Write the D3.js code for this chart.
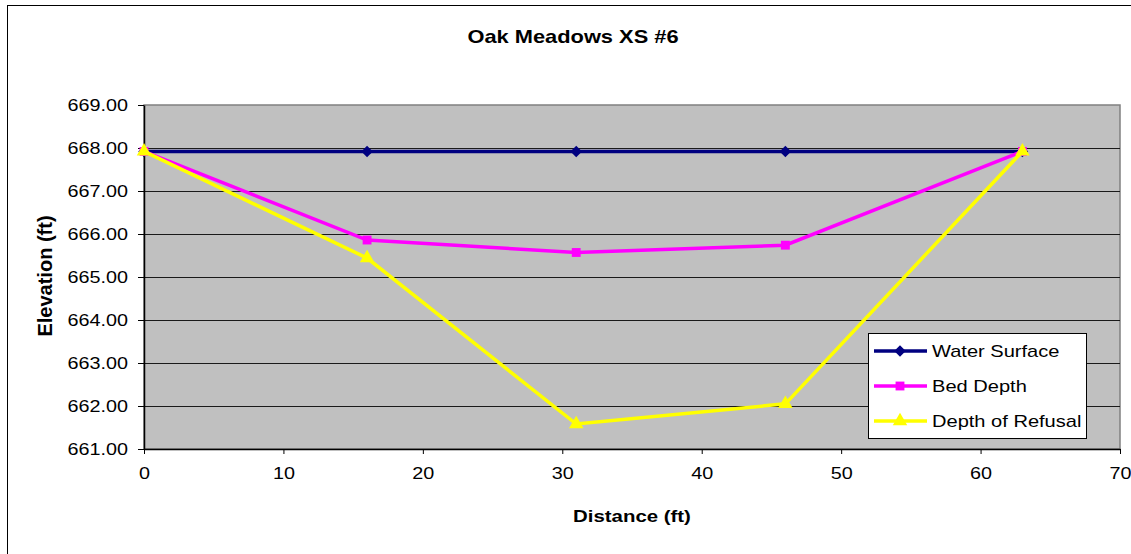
<!DOCTYPE html>
<html><head><meta charset="utf-8">
<script src="https://cdn.jsdelivr.net/npm/d3@7"></script>
<style>body{margin:0;background:#fff}svg{display:block;font-family:"Liberation Sans",Arial,sans-serif}</style>
</head><body><svg id="c" width="1131" height="554"></svg>
<script>
const title = "Oak Meadows XS #6";
const xLabel = "Distance (ft)";
const yLabel = "Elevation (ft)";
const distance = [0, 16, 31, 46, 63];
const waterSurface = [667.92, 667.92, 667.92, 667.92, 667.92];
const bedDepth = [667.92, 665.86, 665.57, 665.74, 667.92];
const depthOfRefusal = [667.92, 665.44, 661.58, 662.05, 667.92];
const seriesNames = ["Water Surface", "Bed Depth", "Depth of Refusal"];
const seriesColors = ["#000080", "#FF00FF", "#FFFF00"];
const seriesSymbols = [d3.symbolDiamond2, d3.symbolSquare2, d3.symbolTriangle2];
const symbolSizes = [85, 100, 150];
const xTicks = [0, 10, 20, 30, 40, 50, 60, 70];
const yTicks = [661, 662, 663, 664, 665, 666, 667, 668, 669];

const SX = 1.18;
const svg = d3.select("#c");
const x = d3.scaleLinear().domain([0, 70]).range([144, 1120]);
const y = d3.scaleLinear().domain([661, 669]).range([449, 105]);

function stretch(sel, k) {
  sel.each(function () {
    const len = this.getComputedTextLength();
    d3.select(this).attr("textLength", len * k).attr("lengthAdjust", "spacingAndGlyphs");
  });
}

// outer chart border
svg.append("rect").attr("x", 7.5).attr("y", 5.5).attr("width", 1200).attr("height", 700)
  .attr("fill", "none").attr("stroke", "#000").attr("stroke-width", 1);

// plot background
svg.append("rect").attr("x", x(0)).attr("y", y(669)).attr("width", x(70) - x(0)).attr("height", y(661) - y(669))
  .attr("fill", "#C0C0C0").attr("stroke", "#808080").attr("stroke-width", 1.5);

// gridlines
svg.append("g").selectAll("line").data(yTicks.filter(t => t > 661 && t < 669)).join("line")
  .attr("x1", x(0)).attr("x2", x(70)).attr("y1", d => Math.round(y(d)) + 0.5).attr("y2", d => Math.round(y(d)) + 0.5)
  .attr("stroke", "#1a1a1a").attr("stroke-width", 1);

// axes
const yAxis = svg.append("g").attr("transform", `translate(${x(0)},0)`)
  .call(d3.axisLeft(y).tickValues(yTicks).tickFormat(d3.format(".2f")).tickSizeInner(6).tickSizeOuter(0).tickPadding(10));
const xAxis = svg.append("g").attr("transform", `translate(0,${y(661)})`)
  .call(d3.axisBottom(x).tickValues(xTicks).tickFormat(d3.format("d")).tickSizeInner(5).tickSizeOuter(0).tickPadding(13));
[yAxis, xAxis].forEach(a => {
  a.select(".domain").attr("stroke", "#000").attr("stroke-width", 1.5);
  a.selectAll(".tick line").attr("stroke", "#000");
  a.selectAll("text").attr("font-family", "Liberation Sans, Arial, sans-serif").attr("font-size", 16.8).attr("fill", "#000");
});
yAxis.selectAll("text").call(stretch, SX);
xAxis.selectAll("text").call(stretch, SX);

// series
const allSeries = [waterSurface, bedDepth, depthOfRefusal];
const line = d3.line().x((d, i) => x(distance[i])).y(d => y(d));
allSeries.forEach((vals, s) => {
  const g = svg.append("g");
  g.append("path").datum(vals).attr("d", line).attr("fill", "none")
    .attr("stroke", seriesColors[s]).attr("stroke-width", 3.5).attr("stroke-linejoin", "miter");
  g.selectAll("path.m").data(vals).join("path").attr("class", "m")
    .attr("transform", (d, i) => `translate(${x(distance[i])},${y(d)})`)
    .attr("d", d3.symbol(seriesSymbols[s], symbolSizes[s])())
    .attr("fill", seriesColors[s]);
});

// legend
const lg = svg.append("g");
lg.append("rect").attr("x", 868.5).attr("y", 333.5).attr("width", 218).attr("height", 105)
  .attr("fill", "#fff").attr("stroke", "#000").attr("stroke-width", 1);
const ly = [351, 386, 421];
seriesNames.forEach((n, s) => {
  lg.append("line").attr("x1", 874).attr("x2", 927).attr("y1", ly[s]).attr("y2", ly[s])
    .attr("stroke", seriesColors[s]).attr("stroke-width", 3.5);
  lg.append("path").attr("transform", `translate(900,${ly[s]})`)
    .attr("d", d3.symbol(seriesSymbols[s], symbolSizes[s])()).attr("fill", seriesColors[s]);
  lg.append("text").attr("x", 932).attr("y", ly[s] + 6).attr("font-size", 17).attr("fill", "#000").text(n)
    .call(stretch, SX);
});

// title and axis labels
svg.append("text").attr("x", 573).attr("y", 43).attr("text-anchor", "middle")
  .attr("font-size", 18.5).attr("font-weight", "bold").text(title).call(stretch, SX);
svg.append("text").attr("x", 632).attr("y", 522).attr("text-anchor", "middle")
  .attr("font-size", 17.3).attr("font-weight", "bold").text(xLabel).call(stretch, SX);
svg.append("text").attr("transform", "translate(52,276) rotate(-90)").attr("text-anchor", "middle")
  .attr("font-size", 20).attr("font-weight", "bold").text(yLabel);
</script></body></html>
